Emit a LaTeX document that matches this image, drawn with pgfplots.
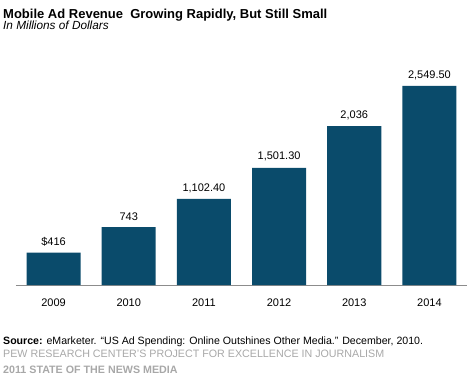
\documentclass[border=0pt]{standalone}
\usepackage{pgfplots}
\pgfplotsset{compat=1.18}
\usepackage{fontspec}
\setmainfont{Liberation Sans}
\definecolor{barc}{HTML}{0A4B6B}
\definecolor{axc}{HTML}{8C8C8C}
\definecolor{grayt}{HTML}{A8A8A8}
\begin{document}
\begin{tikzpicture}[x=1pt,y=1pt]
\path[use as bounding box] (0,0) rectangle (472,384);
\begin{axis}[
  at={(16pt,99pt)}, anchor=south west,
  scale only axis, width=451pt, height=225pt,
  xmin=-0.5, xmax=5.5, ymin=0, ymax=2882.5,
  axis x line*=bottom, axis y line=none,
  x axis line style={axc, line width=0.9pt, -},
  xtick=data, xticklabels={2009,2010,2011,2012,2013,2014},
  major tick length=0pt,
  xticklabel style={font=\fontsize{11}{13}\selectfont, yshift=-10pt},
  ybar, bar width=54pt,
  point meta=explicit symbolic,
  nodes near coords,
  nodes near coords style={font=\fontsize{11}{13}\selectfont, yshift=3pt},
  clip=false,
]
\addplot[fill=barc, draw=none] coordinates {
  (0,416) [\$416]
  (1,743) [743]
  (2,1102.4) [1,102.40]
  (3,1501.3) [1,501.30]
  (4,2036) [2,036]
  (5,2549.5) [2,549.50]
};
\end{axis}
\node[anchor=base west, inner sep=0pt, font=\fontsize{13}{15}\selectfont\bfseries] at (3,365) {Mobile Ad Revenue\ \ Growing Rapidly, But Still Small};
\node[anchor=base west, inner sep=0pt, font=\fontsize{11.8}{13}\selectfont\itshape] at (3,354) {In Millions of Dollars};
\node[anchor=base west, inner sep=0pt, font=\fontsize{10.6}{13}\selectfont] at (3,40) {\textbf{Source:} eMarketer. ``US Ad Spending: Online Outshines Other Media.'' December, 2010.};
\node[anchor=base west, inner sep=0pt, font=\fontsize{10.7}{13}\selectfont, text=grayt] at (3,26.5) {PEW RESEARCH CENTER'S PROJECT FOR EXCELLENCE IN JOURNALISM};
\node[anchor=base west, inner sep=0pt, font=\fontsize{10.7}{13}\selectfont\bfseries, text=grayt] at (3,11) {2011 STATE OF THE NEWS MEDIA};
\end{tikzpicture}
\end{document}
